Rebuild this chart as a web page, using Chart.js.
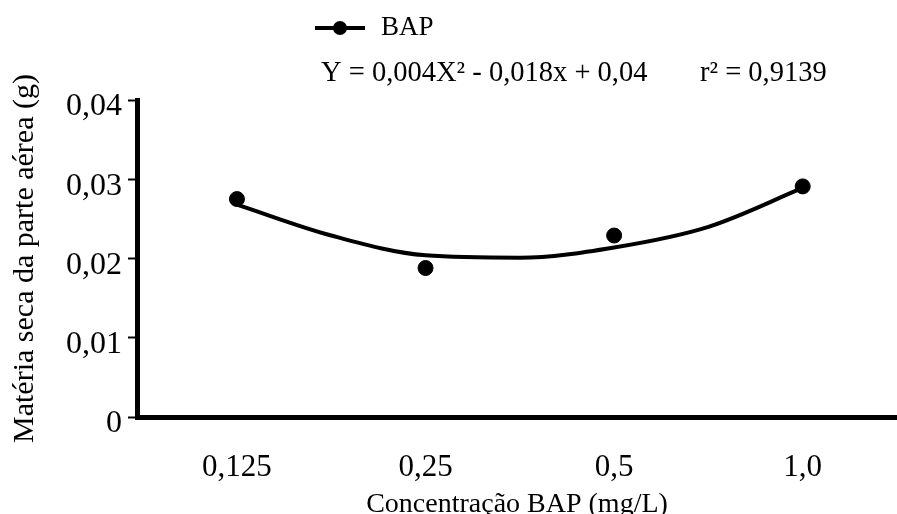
<!DOCTYPE html>
<html>
<head>
<meta charset="utf-8">
<script src="https://cdn.jsdelivr.net/npm/chart.js@4.4.1/dist/chart.umd.min.js"></script>
<style>
  html, body { margin: 0; padding: 0; background: #fff; overflow: hidden; }
  canvas { display: block; }
</style>
</head>
<body>
<canvas id="bapChart" width="897" height="514"></canvas>
<script>
// categories (BAP concentration, mg/L)
const xLabels = ['0,125', '0,25', '0,5', '1,0'];
const xPositions = [1, 2, 3, 4];

// observed means (g)
const observed = [0.0275, 0.0188, 0.0229, 0.0291];

// fitted curve
const curveX = [1, 1.5, 2, 2.5, 3, 3.5, 4];
const curveY = [0.0268, 0.0229, 0.0204, 0.0201, 0.0214, 0.0240, 0.0289];

const yTicks = [0, 0.01, 0.02, 0.03, 0.04];

const legendLabel = 'BAP';
const equationText = 'Y = 0,004X\u00B2 - 0,018x + 0,04';
const r2Text = 'r\u00B2 = 0,9139';

const serif = '"Liberation Serif", "Times New Roman", serif';

// legend + equation drawn above the plot
const headerPlugin = {
    id: 'header',
    afterDraw(chart) {
        const ctx = chart.ctx;
        ctx.save();
        ctx.strokeStyle = '#000';
        ctx.fillStyle = '#000';
        ctx.lineWidth = 4;
        ctx.beginPath();
        ctx.moveTo(315, 28);
        ctx.lineTo(365, 28);
        ctx.stroke();
        ctx.beginPath();
        ctx.arc(340, 28, 7, 0, Math.PI * 2);
        ctx.fill();

        ctx.textBaseline = 'alphabetic';
        ctx.textAlign = 'left';
        ctx.font = '27px ' + serif;
        ctx.fillText(legendLabel, 381, 35);
        ctx.font = '28.5px ' + serif;
        ctx.fillText(equationText, 321, 81);
        ctx.fillText(r2Text, 700, 81);
        ctx.restore();
    }
};

const ctx = document.getElementById('bapChart').getContext('2d');

new Chart(ctx, {
    type: 'scatter',
    data: {
        datasets: [
            {
                label: 'ajuste',
                data: curveX.map((x, i) => ({ x: x, y: curveY[i] })),
                showLine: true,
                borderColor: '#000',
                borderWidth: 4,
                pointRadius: 0,
                cubicInterpolationMode: 'monotone',
                order: 2
            },
            {
                label: legendLabel,
                data: xPositions.map((x, i) => ({ x: x, y: observed[i] })),
                showLine: false,
                backgroundColor: '#000',
                borderColor: '#000',
                pointRadius: 7.5,
                order: 1
            }
        ]
    },
    options: {
        responsive: false,
        animation: false,
        maintainAspectRatio: false,
        layout: { autoPadding: false, padding: { top: 100, left: 0, right: 0, bottom: 0 } },
        plugins: {
            legend: { display: false },
            tooltip: { enabled: false }
        },
        scales: {
            x: {
                type: 'linear',
                min: 0.47,
                max: 4.5,
                afterBuildTicks: scale => {
                    scale.ticks = xPositions.map(v => ({ value: v }));
                },
                afterFit: scale => { scale.height = 97; },
                grid: { display: false },
                border: { display: true, color: '#000', width: 5 },
                ticks: {
                    color: '#000',
                    padding: 24,
                    font: { family: serif, size: 31 },
                    callback: value => xLabels[xPositions.indexOf(value)]
                },
                title: {
                    display: true,
                    text: 'Concentração BAP (mg/L)',
                    color: '#000',
                    font: { family: serif, size: 28 },
                    padding: { top: 0, bottom: -7 }
                }
            },
            y: {
                min: 0,
                max: 0.04,
                afterBuildTicks: scale => {
                    scale.ticks = yTicks.map(v => ({ value: v }));
                },
                afterFit: scale => { scale.width = 137; },
                grid: {
                    display: true,
                    drawOnChartArea: false,
                    drawTicks: true,
                    tickLength: 9,
                    tickWidth: 2,
                    color: '#000'
                },
                border: { display: true, color: '#000', width: 5 },
                ticks: {
                    color: '#000',
                    padding: 6,
                    labelOffset: 7,
                    font: { family: serif, size: 32 },
                    callback: value => value === 0 ? '0' : value.toFixed(2).replace('.', ',')
                },
                title: {
                    display: true,
                    text: 'Matéria seca da parte aérea (g)',
                    color: '#000',
                    font: { family: serif, size: 30 },
                    padding: { top: 7, bottom: 0 }
                }
            }
        }
    },
    plugins: [headerPlugin]
});
</script>
</body>
</html>
